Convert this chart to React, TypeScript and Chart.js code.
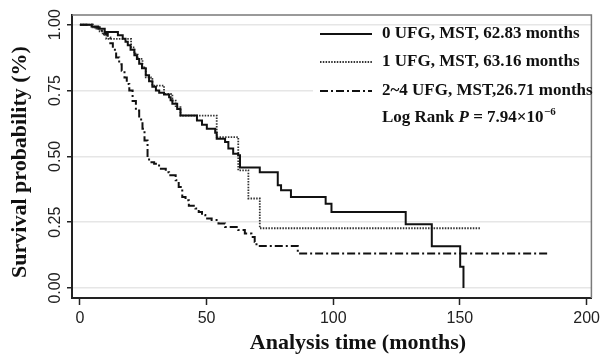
import React, { useEffect, useRef } from "react";
import { Chart, registerables } from "chart.js";

Chart.register(...registerables);

// ---- data ----
const xTicks = [0, 50, 100, 150, 200];
const yTicks = [0, 0.25, 0.5, 0.75, 1.0];

// 0 UFG (solid): event times (months) and survival after each step
const t0 = [0, 4.6, 7.2, 9.8, 15, 16.9, 18, 18.9, 20, 21.5, 22.5, 23.4, 24.5, 26, 27.3, 28.6, 30, 31.3, 33.2, 35.2, 35.8, 36.5, 38.4, 39.7, 46.2, 48.2, 50.1, 53.4, 54, 57.3, 58.6, 60.5, 62.5, 63.2, 71, 78.1, 79.4, 83.3, 97, 99.3, 128.6, 138.9, 150.1, 151.4];
const s0 = [1, 0.993, 0.985, 0.972, 0.96, 0.947, 0.935, 0.922, 0.905, 0.884, 0.87, 0.852, 0.835, 0.808, 0.785, 0.764, 0.75, 0.742, 0.735, 0.725, 0.713, 0.7, 0.68, 0.655, 0.636, 0.62, 0.605, 0.59, 0.567, 0.555, 0.53, 0.51, 0.504, 0.458, 0.44, 0.39, 0.371, 0.346, 0.32, 0.289, 0.242, 0.159, 0.081, 0];

// 1 UFG (dotted)
const t1 = [0, 5, 6.5, 7.8, 9, 10.4, 20.2, 21.5, 22.8, 24.7, 26, 28, 28.6, 33.2, 36.5, 37.8, 39.7, 54, 62.5, 66.5, 71, 158.2];
const s1 = [1, 0.99, 0.985, 0.975, 0.962, 0.946, 0.914, 0.89, 0.87, 0.838, 0.8, 0.794, 0.769, 0.737, 0.712, 0.687, 0.655, 0.573, 0.447, 0.34, 0.227, 0.227];

// 2~4 UFG (dash-dot)
const t2 = [0, 5, 7.8, 9.5, 11, 12, 13, 14.3, 15.5, 16.5, 17.6, 18.5, 19.5, 20.8, 22.1, 23.4, 24.7, 25.5, 26.7, 27.3, 29.3, 31.25, 33.9, 35.2, 37.8, 39, 40.4, 41.7, 43, 45.6, 46.9, 48.2, 49.5, 52, 54.7, 57.3, 62.5, 65.1, 67.7, 69, 69.7, 86, 185.5];
const s2 = [1, 0.99, 0.977, 0.965, 0.952, 0.93, 0.905, 0.876, 0.85, 0.825, 0.8, 0.775, 0.75, 0.71, 0.674, 0.64, 0.605, 0.56, 0.497, 0.478, 0.472, 0.453, 0.44, 0.428, 0.409, 0.384, 0.346, 0.333, 0.312, 0.302, 0.289, 0.277, 0.264, 0.258, 0.245, 0.232, 0.22, 0.207, 0.194, 0.175, 0.16, 0.131, 0.131];

const seriesLabels = ["0 UFG, MST, 62.83 months", "1 UFG, MST, 63.16 months", "2~4 UFG, MST,26.71 months"];
const xTitle = "Analysis time (months)";
const yTitle = "Survival probability (%)";

const SERIF = '"Liberation Serif", "Times New Roman", serif';
const SANS = '"Liberation Sans", Arial, sans-serif';

const styles = [
  { color: "#111111", width: 2, dash: [] as number[] },
  { color: "#333333", width: 1.8, dash: [1.5, 1.3] },
  { color: "#111111", width: 2, dash: [8, 3, 2, 3] },
];

const toPts = (t: number[], s: number[]) => t.map((x, i) => ({ x, y: s[i] }));

const overlayPlugin = {
  id: "kmOverlay",
  afterDraw(chart: any) {
    const ctx = chart.ctx as CanvasRenderingContext2D;
    const { left, top, right, bottom } = chart.chartArea;
    ctx.save();
    // top & right frame
    ctx.strokeStyle = "#7a7a7a";
    ctx.lineWidth = 1.5;
    ctx.setLineDash([]);
    ctx.beginPath();
    ctx.moveTo(left, top);
    ctx.lineTo(right, top);
    ctx.lineTo(right, bottom);
    ctx.stroke();

    // legend box
    ctx.fillStyle = "#ffffff";
    ctx.fillRect(313, 28, 277, 100);
    const rows = [34, 62, 91];
    ctx.font = `bold 17px ${SERIF}`;
    ctx.textBaseline = "middle";
    ctx.textAlign = "left";
    rows.forEach((y, i) => {
      const st = styles[i];
      ctx.strokeStyle = st.color;
      ctx.lineWidth = st.width;
      ctx.setLineDash(st.dash);
      ctx.beginPath();
      ctx.moveTo(320, y);
      ctx.lineTo(372, y);
      ctx.stroke();
      ctx.fillStyle = "#111";
      ctx.fillText(seriesLabels[i], 382, y);
    });
    ctx.setLineDash([]);
    // Log rank line
    let x = 382;
    const y = 118;
    ctx.fillStyle = "#111";
    ctx.font = `bold 17px ${SERIF}`;
    const a = "Log Rank ";
    ctx.fillText(a, x, y);
    x += ctx.measureText(a).width;
    ctx.font = `italic bold 17px ${SERIF}`;
    ctx.fillText("P", x, y);
    x += ctx.measureText("P").width;
    ctx.font = `bold 17px ${SERIF}`;
    const b = " = 7.94×10";
    ctx.fillText(b, x, y);
    x += ctx.measureText(b).width;
    ctx.font = `bold 11px ${SERIF}`;
    ctx.fillText("−6", x + 0.5, y - 6);

    // axis titles
    ctx.fillStyle = "#111";
    ctx.font = `bold 22px ${SERIF}`;
    ctx.textAlign = "center";
    ctx.textBaseline = "middle";
    ctx.fillText(xTitle, 358, 343);
    ctx.translate(20, 162);
    ctx.rotate(-Math.PI / 2);
    ctx.fillText(yTitle, 0, 0);
    ctx.restore();
  },
};

export default function App() {
  const ref = useRef<HTMLCanvasElement | null>(null);
  useEffect(() => {
    if (!ref.current) return;
    const chart = new Chart(ref.current, {
      type: "line",
      data: {
        datasets: [
          { label: seriesLabels[0], data: toPts(t0, s0) },
          { label: seriesLabels[1], data: toPts(t1, s1) },
          { label: seriesLabels[2], data: toPts(t2, s2) },
        ].map((d, i) => ({
          ...d,
          stepped: "before" as const,
          borderColor: styles[i].color,
          borderWidth: styles[i].width,
          borderDash: styles[i].dash,
          pointRadius: 0,
          fill: false,
          tension: 0,
        })),
      },
      options: {
        animation: false,
        responsive: false,
        layout: { padding: { top: 15, right: 6, left: 0, bottom: 0 } },
        plugins: { legend: { display: false }, tooltip: { enabled: false } },
        scales: {
          x: {
            type: "linear",
            min: -3.12,
            max: 201.9,
            afterBuildTicks: (s: any) => {
              s.ticks = xTicks.map((v) => ({ value: v }));
            },
            afterFit: (s: any) => {
              s.height = 58;
            },
            grid: { drawOnChartArea: false, drawTicks: true, tickLength: 7, tickColor: "#222", tickWidth: 1.5 },
            border: { display: true, color: "#222", width: 2 },
            ticks: { color: "#222", font: { family: SANS, size: 16 }, padding: 4, maxRotation: 0 },
            title: { display: false, text: xTitle },
          },
          y: {
            type: "linear",
            min: -0.038,
            max: 1.037,
            afterBuildTicks: (s: any) => {
              s.ticks = yTicks.map((v) => ({ value: v }));
            },
            afterFit: (s: any) => {
              s.width = 72;
            },
            grid: { color: "#e6e6e6", lineWidth: 1.5, drawTicks: true, tickLength: 5, tickColor: "#222", tickWidth: 1.5 },
            border: { display: true, color: "#222", width: 2 },
            ticks: {
              color: "#222",
              font: { family: SANS, size: 16 },
              minRotation: 90,
              maxRotation: 90,
              crossAlign: "center",
              padding: -4,
              callback: (v: any) => Number(v).toFixed(2),
            },
            title: { display: false, text: yTitle },
          },
        },
      },
      plugins: [overlayPlugin],
    } as any);
    return () => chart.destroy();
  }, []);
  return (
    <div style={{ position: "fixed", left: 0, top: 0, width: 604, height: 356, background: "#fff" }}>
      <canvas ref={ref} width={604} height={356} />
    </div>
  );
}
